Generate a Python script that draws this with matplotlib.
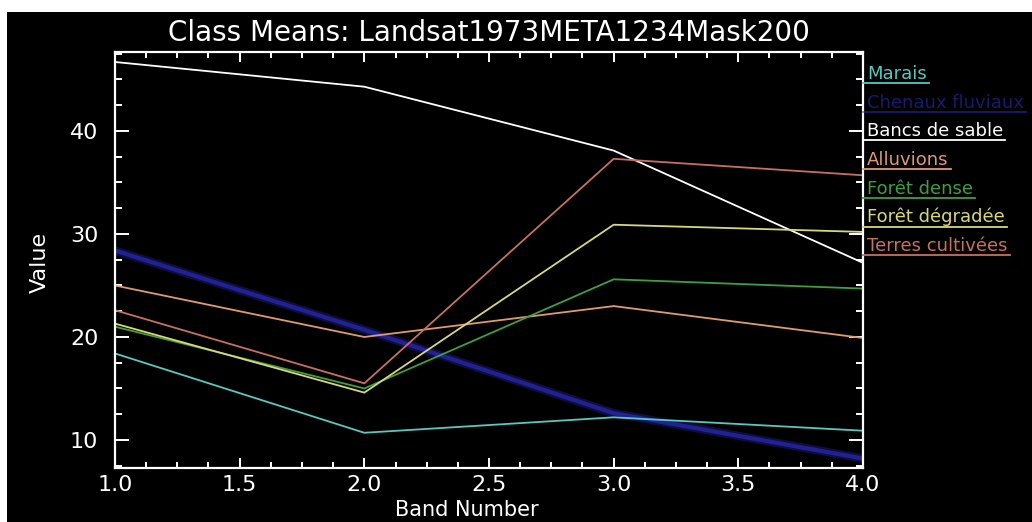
import numpy as np
import matplotlib
matplotlib.use("Agg")
from matplotlib import pyplot as plt
from matplotlib.lines import Line2D
from matplotlib.patches import Rectangle
from matplotlib.ticker import MultipleLocator

# band numbers and per-class mean values
bands = [1.0, 2.0, 3.0, 4.0]
class_names = [
    "Marais",
    "Chenaux fluviaux",
    "Bancs de sable",
    "Alluvions",
    "Forêt dense",
    "Forêt dégradée",
    "Terres cultivées",
]
marais = [18.4, 10.7, 12.2, 10.9]
chenaux = [28.4, 20.7, 12.6, 8.2]
bancs = [46.7, 44.3, 38.1, 27.2]
alluvions = [25.0, 20.0, 23.0, 19.9]
foret_dense = [21.0, 15.0, 25.6, 24.7]
foret_degradee = [21.3, 14.6, 30.9, 30.2]
terres = [22.6, 15.5, 37.3, 35.7]
class_colors = ["#58c8c0", "#2a2ab8", "#ffffff", "#e09a70", "#3f9f3f", "#d8d878", "#c87060"]

title = "Class Means: Landsat1973META1234Mask200"

W, H = 1032, 522
fig = plt.figure(figsize=(W / 100, H / 100), dpi=100, facecolor="white")
# black drawing area with the thin white margin on top/left
fig.patches.append(Rectangle((7 / W, 0), 1, 1 - 12 / H, transform=fig.transFigure,
                             facecolor="black", edgecolor="none", zorder=-10))

ax = fig.add_axes([115 / W, 1 - 468 / H, (863 - 115) / W, (468 - 52) / H])
ax.set_facecolor("black")

series = [marais, chenaux, bancs, alluvions, foret_dense, foret_degradee, terres]
for name, vals, col in zip(class_names, series, class_colors):
    if name == "Chenaux fluviaux":
        # wide soft band for the blurred blue line
        ax.plot(bands, vals, color=col, lw=6, alpha=0.35, solid_capstyle="butt", zorder=1)
        ax.plot(bands, vals, color=col, lw=3, alpha=0.7, solid_capstyle="butt", zorder=1)
    else:
        ax.plot(bands, vals, color=col, lw=1.3, zorder=2)

ax.set_xlim(1.0, 4.0)
ax.set_ylim(7.28, 47.67)
ax.xaxis.set_major_locator(MultipleLocator(0.5))
ax.xaxis.set_minor_locator(MultipleLocator(0.125))
ax.yaxis.set_major_locator(MultipleLocator(10))
ax.yaxis.set_minor_locator(MultipleLocator(2.5))

for sp in ax.spines.values():
    sp.set_color("white")
    sp.set_linewidth(1.6)

font = "DejaVu Sans"
ax.tick_params(axis="both", which="both", direction="in", colors="white",
               top=True, right=True, width=1.4)
ax.tick_params(axis="y", which="major", length=10, labelsize=16, pad=12)
ax.tick_params(axis="y", which="minor", length=5)
ax.tick_params(axis="x", which="major", length=7, labelsize=16, pad=5)
ax.tick_params(axis="x", which="minor", length=4)
ax.xaxis.set_major_formatter(matplotlib.ticker.FormatStrFormatter("%.1f"))
for lab in ax.get_xticklabels() + ax.get_yticklabels():
    lab.set_fontfamily(font)

fig.text(489 / W, 1 - 33 / H, title, color="white", fontsize=20, family=font,
         ha="center", va="center")
fig.text(467 / W, 1 - 510 / H, "Band Number", color="white", fontsize=15, family=font,
         ha="center", va="center")
fig.text(40 / W, 1 - 262 / H, "Value", color="white", fontsize=16, family=font,
         ha="center", va="center", rotation=90)

# legend: coloured labels with underlines to the right of the axes
first_line_y = 83
step = 28.7
texts = []
for i, (name, col) in enumerate(zip(class_names, class_colors)):
    y_line = first_line_y + i * step
    alpha = 0.6 if name == "Chenaux fluviaux" else 1.0
    t = fig.text(867 / W, 1 - (y_line - 4) / H, name, color=col, fontsize=13, family=font,
                 ha="left", va="baseline", alpha=alpha)
    texts.append((t, y_line, col, alpha))

fig.canvas.draw()
renderer = fig.canvas.get_renderer()
for t, y_line, col, alpha in texts:
    bb = t.get_window_extent(renderer)
    x_end = min(bb.x1 + 2, W)
    fig.lines.append(Line2D([863 / W, x_end / W], [1 - y_line / H, 1 - y_line / H],
                            transform=fig.transFigure, color=col, lw=1.3, alpha=alpha))

fig.savefig("out.png", dpi=100, facecolor=fig.get_facecolor())
